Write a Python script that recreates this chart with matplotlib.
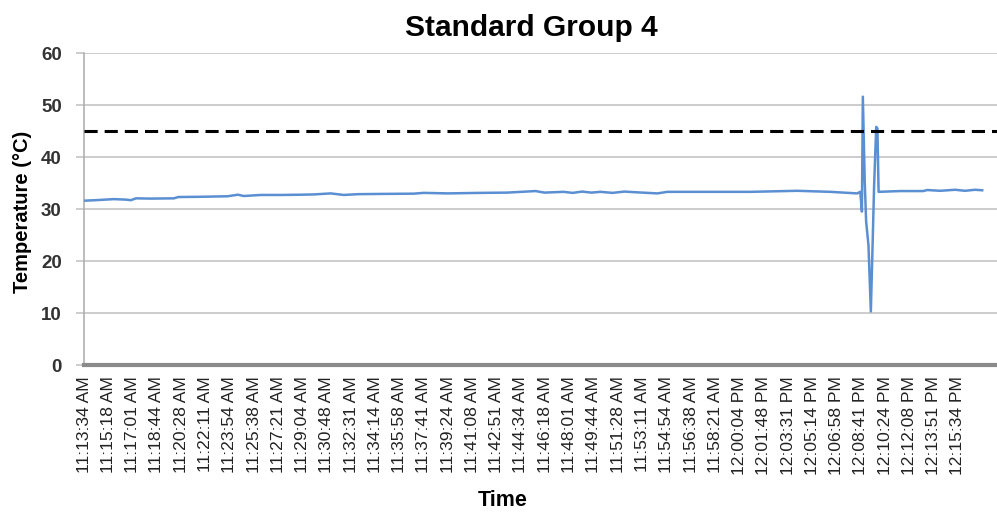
import pandas as pd
import matplotlib
matplotlib.use("Agg")
import matplotlib.pyplot as plt

# Temperaturverlauf Standard Group 4
# Zeit in Sekunden ab 11:13:34 AM
t_sec = [0, 51, 128, 179, 200, 221, 285, 383, 400, 497, 612, 655, 680, 753, 838,
         923, 978, 1050, 1106, 1165, 1263, 1403, 1446, 1548, 1688, 1800, 1922,
         1960, 2041, 2080, 2120, 2160, 2198, 2250, 2300, 2356, 2441, 2483, 2624,
         2836, 3036, 3176, 3291, 3304,
         3311, 3315, 3323, 3329, 3339, 3349, 3355, 3363, 3372, 3377, 3382,
         3474, 3572, 3589, 3644, 3708, 3750, 3793, 3823]
temp = [31.6, 31.7, 31.9, 31.8, 31.7, 32.05, 32.0, 32.05, 32.3, 32.35, 32.45, 32.75,
        32.5, 32.7, 32.7, 32.75, 32.8, 33.0, 32.7, 32.85, 32.9, 32.95, 33.1, 33.0,
        33.1, 33.15, 33.45, 33.15, 33.3, 33.1, 33.35, 33.15, 33.3, 33.1, 33.35,
        33.2, 33.0, 33.3, 33.3, 33.3, 33.5, 33.3, 33.0, 33.3,
        29.5, 51.6, 35.3, 27.6, 23.0, 10.3, 20.5, 34.6, 45.8, 45.5, 33.3,
        33.45, 33.45, 33.65, 33.5, 33.7, 33.5, 33.7, 33.6]

limit = 45  # Grenzwert (gestrichelte Linie)

time_labels = ["11:13:34 AM", "11:15:18 AM", "11:17:01 AM", "11:18:44 AM", "11:20:28 AM",
               "11:22:11 AM", "11:23:54 AM", "11:25:38 AM", "11:27:21 AM", "11:29:04 AM",
               "11:30:48 AM", "11:32:31 AM", "11:34:14 AM", "11:35:58 AM", "11:37:41 AM",
               "11:39:24 AM", "11:41:08 AM", "11:42:51 AM", "11:44:34 AM", "11:46:18 AM",
               "11:48:01 AM", "11:49:44 AM", "11:51:28 AM", "11:53:11 AM", "11:54:54 AM",
               "11:56:38 AM", "11:58:21 AM", "12:00:04 PM", "12:01:48 PM", "12:03:31 PM",
               "12:05:14 PM", "12:06:58 PM", "12:08:41 PM", "12:10:24 PM", "12:12:08 PM",
               "12:13:51 PM", "12:15:34 PM"]

# Tick-Positionen aus den Beschriftungen berechnen
times = pd.to_datetime(time_labels, format="%I:%M:%S %p")
tick_pos = (times - times[0]).total_seconds()

fig = plt.figure(figsize=(9.97, 5.15), dpi=100)
ax = fig.add_axes([84/997, 1 - 365/515, 913/997, 312/515])

ax.plot(t_sec, temp, color="#5a8fd2", lw=1.8, zorder=3)
ax.axhline(limit, color="black", lw=2.2, linestyle=(0, (4.3, 2.3)), zorder=4)

ax.set_xlim(0, 3886)
ax.set_ylim(0, 60)
ax.set_yticks(range(0, 61, 10))
ax.set_xticks(tick_pos)
ax.set_xticklabels(time_labels, rotation=90, fontsize=12.6, family="Liberation Sans", color="#222222")
for lab in ax.get_yticklabels():
    lab.set_fontsize(13.5)
    lab.set_fontweight("bold")
    lab.set_family("Liberation Sans")
    lab.set_color("#333333")

ax.grid(axis="y", color="#c8c8c8", lw=1.3)
ax.set_axisbelow(True)
ax.tick_params(axis="x", length=0, pad=8)
ax.tick_params(axis="y", length=6, color="#c8c8c8", width=1.3, pad=10)

for s in ["top", "right"]:
    ax.spines[s].set_visible(False)
ax.spines["left"].set_color("#b0b0b0")
ax.spines["left"].set_linewidth(1.2)
ax.spines["bottom"].set_color("#8a8a8a")
ax.spines["bottom"].set_linewidth(3)

fig.text(531/997, 1 - 28/515, "Standard Group 4", ha="center", va="center",
         fontsize=21.5, fontweight="bold", family="Liberation Sans")
fig.text(503/997, 1 - 500/515, "Time", ha="center", va="center",
         fontsize=15.5, fontweight="bold", family="Liberation Sans")
fig.text(23/997, 1 - 212/515, "Temperature (°C)", ha="center", va="center", rotation=90,
         fontsize=14.5, fontweight="bold", family="Liberation Sans")

fig.savefig("out.png", dpi=100)
